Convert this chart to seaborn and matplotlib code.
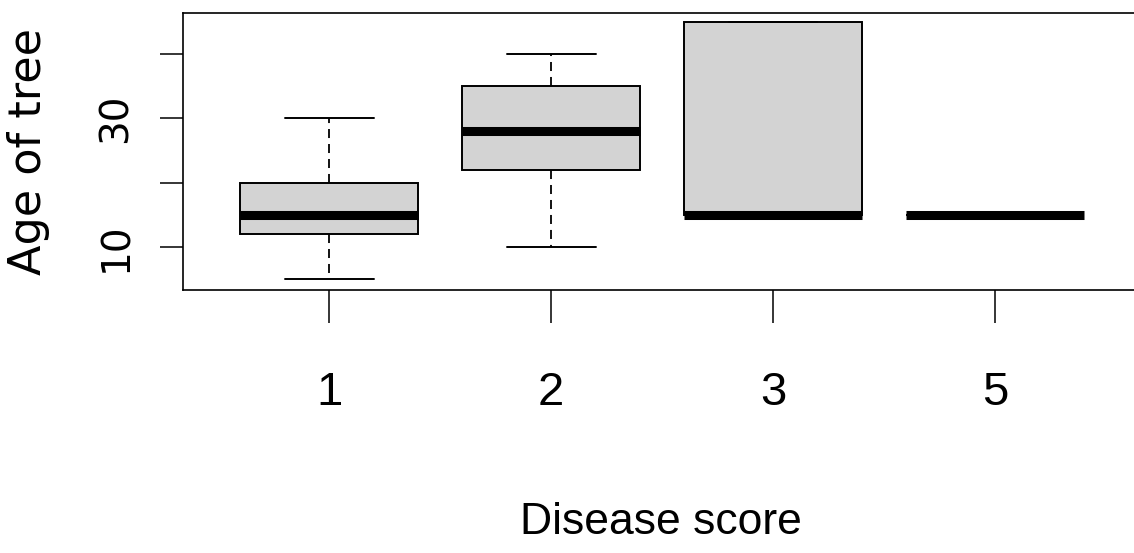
import pandas as pd
import seaborn as sns
import matplotlib.pyplot as plt

# Age of tree per disease score (values chosen to reproduce the box stats)
score_order = ['1', '2', '3', '5']
ages_score1 = [5, 12, 15, 20, 30]
ages_score2 = [10, 22, 28, 35, 40]
ages_score3 = [15, 15, 15, 45, 45]
ages_score5 = [15]

y_ticks = [10, 20, 30, 40]
y_ticklabels = ['10', '', '30', '']

df = pd.DataFrame({
    'score': ['1'] * len(ages_score1) + ['2'] * len(ages_score2)
             + ['3'] * len(ages_score3) + ['5'] * len(ages_score5),
    'age': ages_score1 + ages_score2 + ages_score3 + ages_score5,
})

sns.set_theme(style="ticks", rc={
    'text.color': 'black', 'axes.labelcolor': 'black',
    'xtick.color': 'black', 'ytick.color': 'black',
    'axes.edgecolor': 'black',
})
plt.rcParams['font.family'] = ['DejaVu Sans']

fig = plt.figure(figsize=(11.34, 5.53), dpi=100)
fig.patch.set_facecolor('white')
ax = fig.add_axes([0.1611, 0.4756, 0.8455, 0.5015])

sns.boxplot(
    data=df, x='score', y='age', order=score_order, ax=ax,
    color='#D3D3D3', saturation=1, linecolor='black', linewidth=1.4,
    width=0.8, showfliers=False,
    medianprops=dict(linewidth=6.5, color='black', solid_capstyle='butt'),
    whiskerprops=dict(linestyle=(0, (5, 3.3)), linewidth=1.3),
)

ax.set_xlim(-0.66, 3.66)
ax.set_ylim(3.3, 46.4)

for side in ['top', 'right', 'left', 'bottom']:
    ax.spines[side].set_visible(True)
    ax.spines[side].set_color('black')
    ax.spines[side].set_linewidth(1.2)

ax.set_yticks(y_ticks)
ax.set_yticklabels(y_ticklabels, rotation=90, va='center',
                   fontsize=28, family=['DejaVu Sans'])
ax.set_xticks(range(len(score_order)))
ax.set_xticklabels(score_order, fontsize=34,
                   family=['Liberation Sans Narrow', 'Liberation Sans'])
ax.tick_params(axis='y', length=16.5, width=1.1, pad=18, colors='black')
ax.tick_params(axis='x', length=24, width=1.1, pad=34, colors='black')

ax.set_xlabel('Disease score', fontsize=32,
              family=['Liberation Sans Narrow', 'Liberation Sans'])
ax.set_ylabel('Age of tree', fontsize=32, family=['DejaVu Sans'])
ax.yaxis.label.set_va('center')
ax.xaxis.set_label_coords(0.499, -0.765)
ax.yaxis.set_label_coords(-0.161, 0.5)

fig.savefig('out.png', dpi=100, facecolor='white')
